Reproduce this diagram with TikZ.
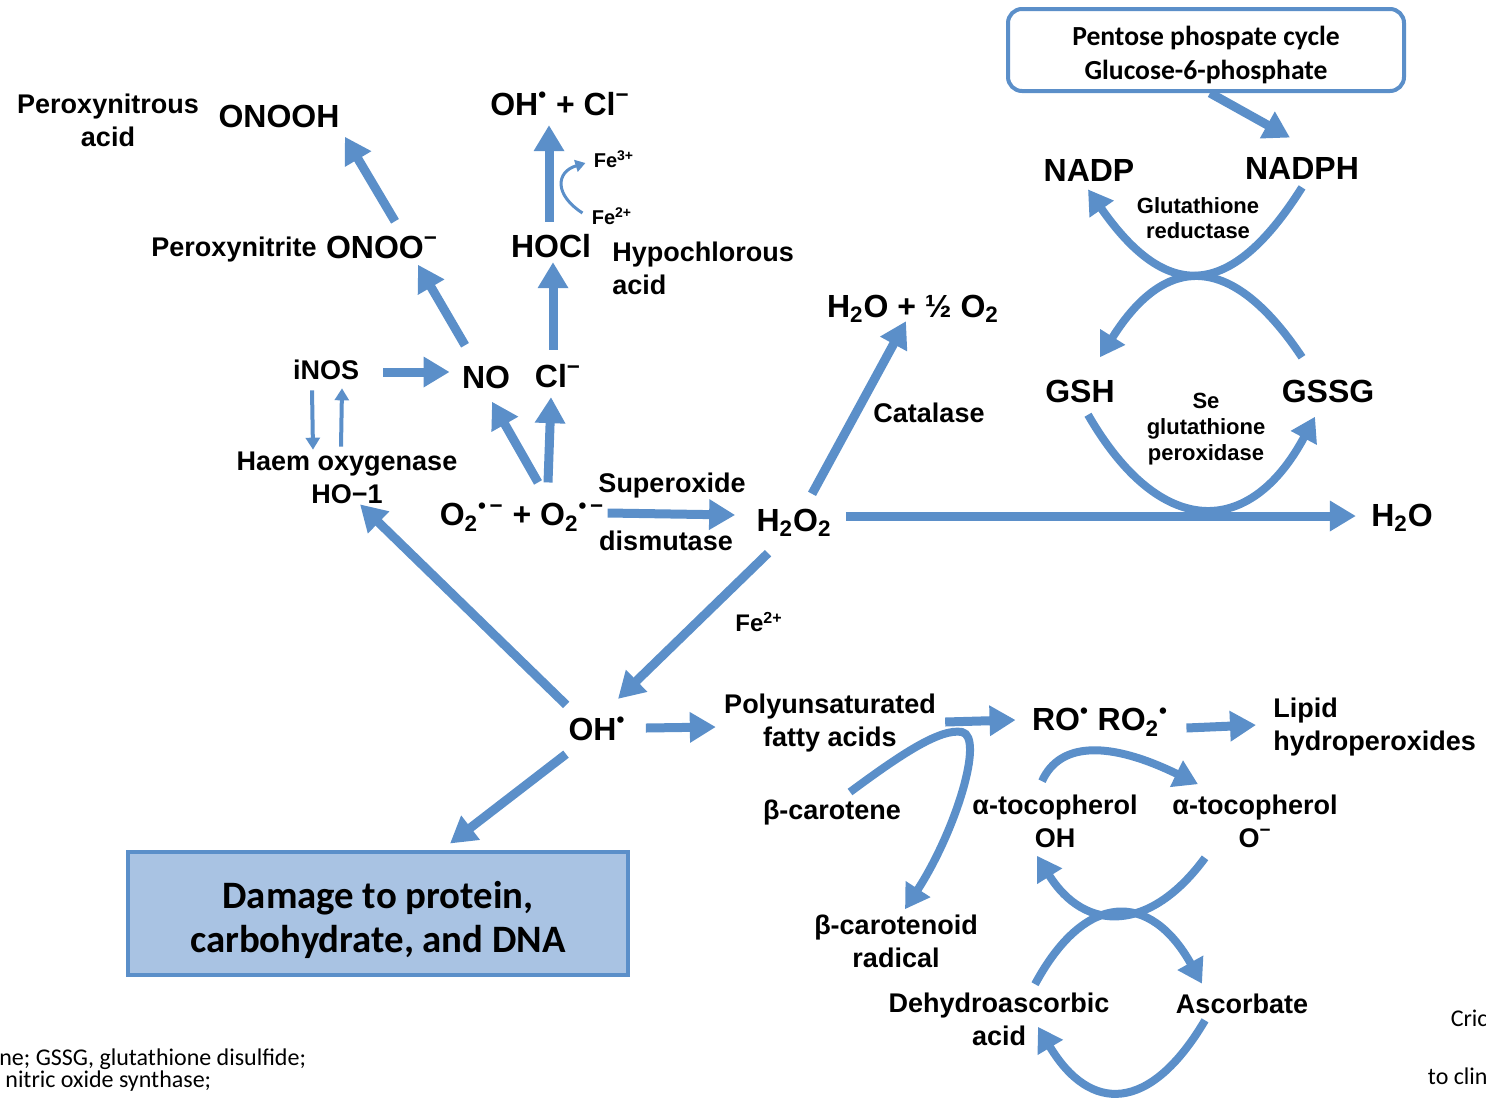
\documentclass[tikz,border=0pt]{standalone}
\usepackage{fontspec}
\setmainfont{Liberation Sans}
\newfontfamily\calfont{Carlito}
\usetikzlibrary{arrows.meta}
\definecolor{oxblue}{HTML}{5B8FC9}
\definecolor{oxfill}{HTML}{A9C3E3}

\begin{document}
\begin{tikzpicture}[x=0.5pt,y=-0.5pt,
  lbl/.style={inner sep=0pt, align=center, font=\fontsize{13.5}{16.5}\selectfont\bfseries},
  chem/.style={inner sep=0pt, font=\fontsize{16}{19}\selectfont\bfseries},
  enz/.style={inner sep=0pt, align=center, font=\fontsize{11}{12.8}\selectfont\bfseries},
  ion/.style={inner sep=0pt, font=\fontsize{10}{12}\selectfont\bfseries},
  note/.style={inner sep=0pt, font=\calfont\fontsize{12}{14}\selectfont},
  fat/.style={oxblue, line width=4.5pt, -{Triangle[length=13pt,width=14.5pt]}},
  curvy/.style={oxblue, line width=4pt, -{Triangle[length=12pt,width=14pt]}},
  slim/.style={oxblue, line width=2pt, -{Triangle[length=6pt,width=7pt]}}]
\useasboundingbox (0,0) rectangle (1486,1098);

\node[lbl] (pnacid) at (108,120) {Peroxynitrous\\acid};
\node[chem] (onooh) at (279,116) {ONOOH};
\node[lbl] (pnite) at (234,250) {Peroxynitrite};
\node[chem] (onoo) at (382,247) {ONOO\textsuperscript{−}};
\node[chem] (ohcl) at (560,104) {OH\textsuperscript{•} + Cl\textsuperscript{−}};
\node[ion] (fe3) at (614,159) {Fe\textsuperscript{3+}};
\node[ion] (fe2a) at (612,216) {Fe\textsuperscript{2+}};
\node[chem] (hocl) at (551,246) {HOCl};
\node[lbl, align=left, anchor=west] (hypo) at (612,268) {Hypochlorous\\acid};
\node[lbl] (inos) at (326,370) {iNOS};
\node[chem] (no) at (486,377) {NO};
\node[chem] (cl) at (558,376) {Cl\textsuperscript{−}};
\node[lbl] (haem) at (347,478) {Haem oxygenase\\HO−1};
\node[chem] (o2) at (522,517) {O\textsubscript{2}\textsuperscript{•\,−} + O\textsubscript{2}\textsuperscript{•\,−}};
\node[lbl] (sod) at (672,486) {Superoxide};
\node[lbl] (dism) at (666,541) {dismutase};
\node[chem] (h2o2) at (794,523) {H\textsubscript{2}O\textsubscript{2}};
\node[chem] (h2oo2) at (913,309) {H\textsubscript{2}O + ½ O\textsubscript{2}};
\node[lbl] (cat) at (929,413) {Catalase};
\node[chem] (h2o) at (1402,518) {H\textsubscript{2}O};

\node[draw=oxblue, line width=2pt, rounded corners=7pt, fill=white, minimum width=198pt, minimum height=41pt, align=center, font=\calfont\bfseries\fontsize{13.8}{17}\selectfont] (ppc) at (1206,50) {\rule{0pt}{14.5pt}Pentose phospate cycle\\Glucose-6-phosphate};
\node[chem] (nadp) at (1089,170) {NADP};
\node[chem] (nadph) at (1302,168) {NADPH};
\node[enz] (gred) at (1198,218) {Glutathione\\reductase};
\node[chem] (gsh) at (1080,391) {GSH};
\node[chem] (gssg) at (1328,391) {GSSG};
\node[enz] (gpx) at (1206,429) {Se\\glutathione\\peroxidase};

\node[chem] (oh) at (597,729) {OH\textsuperscript{•}};
\node[ion, font=\fontsize{12}{14}\selectfont\bfseries] (fe2b) at (759,622) {Fe\textsuperscript{2+}};
\node[draw=oxblue, fill=oxfill, line width=2pt, minimum width=250pt, minimum height=61.5pt, align=center, font=\calfont\bfseries\fontsize{19.4}{22}\selectfont] (damage) at (378,913) {\rule{0pt}{20.5pt}Damage to protein,\\carbohydrate, and DNA};
\node[lbl] (pufa) at (830,723) {Polyunsaturated\\fatty acids};
\node[chem] (ro) at (1100,722) {RO\textsuperscript{•} RO\textsubscript{2}\textsuperscript{•}};
\node[lbl, align=left, anchor=west] (lipid) at (1273,727) {Lipid\\hydroperoxides};
\node[lbl] (bcar) at (832,813) {β-carotene};
\node[lbl] (bcrad) at (896,941) {β-carotenoid\\radical};
\node[lbl] (atoh) at (1055,821) {α-tocopherol\\OH};
\node[lbl] (ato) at (1255,821) {α-tocopherol\\O\textsuperscript{−}};
\node[lbl] (dha) at (999,1019) {Dehydroascorbic\\acid};
\node[lbl] (asc) at (1242,1004) {Ascorbate};

\node[note, anchor=west] (ftone) at (-1,1059) {ne; GSSG, glutathione disulfide;};
\node[note, anchor=west] (fttwo) at (5,1081) {nitric oxide synthase;};
\node[note, anchor=east] (ftthree) at (1488,1018) {Cric};
\node[note, anchor=east] (ftfour) at (1488,1076) {to clin};

\draw[fat] ([shift={(13,-14)}]onoo.north) -- ([shift={(5,9)}]onooh.south east);
\draw[fat] ([shift={(-21,-20)}]no.north) -- ([shift={(36,6)}]onoo.south);
\draw[fat] ([shift={(-2,-12)}]hocl.north) -- ([shift={(-11,9)}]ohcl.south);
\draw[oxblue, line width=1.5pt, -{Triangle[length=5pt,width=6pt]}] ([shift={(-9,-3)}]fe2a.west) .. controls +(-28,-18) and +(-30,9) .. ([shift={(-8,4)}]fe3.west);
\draw[fat] ([shift={(-5,-14)}]cl.north) -- ([shift={(2,4)}]hocl.south);
\draw[fat] ([shift={(24,2)}]inos.east) -- ([shift={(-12,-5)}]no.west);
\draw[slim] ([shift={(-14,10)}]inos.south) -- ([shift={(-34,-2)}]haem.north);
\draw[slim] ([shift={(-6,-5)}]haem.north) -- ([shift={(16,8)}]inos.south);
\draw[fat] ([shift={(16,-20)}]o2.north) -- ([shift={(6,13)}]no.south);
\draw[fat] ([shift={(26,-20)}]o2.north) -- ([shift={(-7,9)}]cl.south);
\draw[fat] ([shift={(3,-4)}]o2.east) -- ([shift={(-21,-8)}]h2o2.west);
\draw[fat] ([shift={(18,-15)}]h2o2.north) -- ([shift={(-7,-2)}]h2oo2.south);
\draw[fat] ([shift={(14,-7)}]h2o2.east) -- ([shift={(-15,-2)}]h2o.west);

\draw[fat] ([shift={(4,0)}]ppc.south) -- ([shift={(-12,-19)}]nadph.north);
\draw[curvy] ([shift={(0,8)}]nadph.south) .. controls +(-72,114) and +(78,112) .. ([shift={(-1,8)}]nadp.south);
\draw[curvy] ([shift={(-26,-22)}]gssg.north) .. controls +(-70,-105) and +(66,-105) .. ([shift={(20,-22)}]gsh.north);
\draw[curvy] ([shift={(8,12)}]gsh.south) .. controls +(72,125) and +(-65,122) .. ([shift={(-13,14)}]gssg.south);

\draw[fat] ([shift={(-26,16)}]h2o2.south) -- ([shift={(21,-18)}]oh.north);
\draw[fat] ([shift={(-2,-12)}]oh.north west) -- ([shift={(13,0)}]haem.south);
\draw[fat] ([shift={(-31,13)}]oh.south) -- ([shift={(72,-6)}]damage.north);
\draw[fat] ([shift={(20,-1)}]oh.east) -- ([shift={(-8,4)}]pufa.west);
\draw[fat] ([shift={(9,-1)}]pufa.east) -- ([shift={(-16,-2)}]ro.west);
\draw[fat] ([shift={(18,6)}]ro.east) -- ([shift={(-17,-2)}]lipid.west);

\draw[curvy] ([shift={(18,-8)}]bcar.north) .. controls +(50,-37) and +(-22,-4) .. (962,732) .. controls +(23,5) and +(50,-77) .. ([shift={(9,-5)}]bcrad.north);
\draw[curvy] ([shift={(-13,-13)}]atoh.north) .. controls +(18,-40) and +(-88,-43) .. ([shift={(-57,-10)}]ato.north);
\draw[curvy] ([shift={(-50,10)}]ato.south) .. controls +(-55,75) and +(48,77) .. ([shift={(-18,8)}]atoh.south);
\draw[curvy] ([shift={(36,-8)}]dha.north) .. controls +(50,-93) and +(-52,-93) .. ([shift={(-40,-10)}]asc.north);
\draw[curvy] ([shift={(-37,6)}]asc.south) .. controls +(-55,93) and +(52,87) .. ([shift={(39,-19)}]dha.south);
\end{tikzpicture}
\end{document}
